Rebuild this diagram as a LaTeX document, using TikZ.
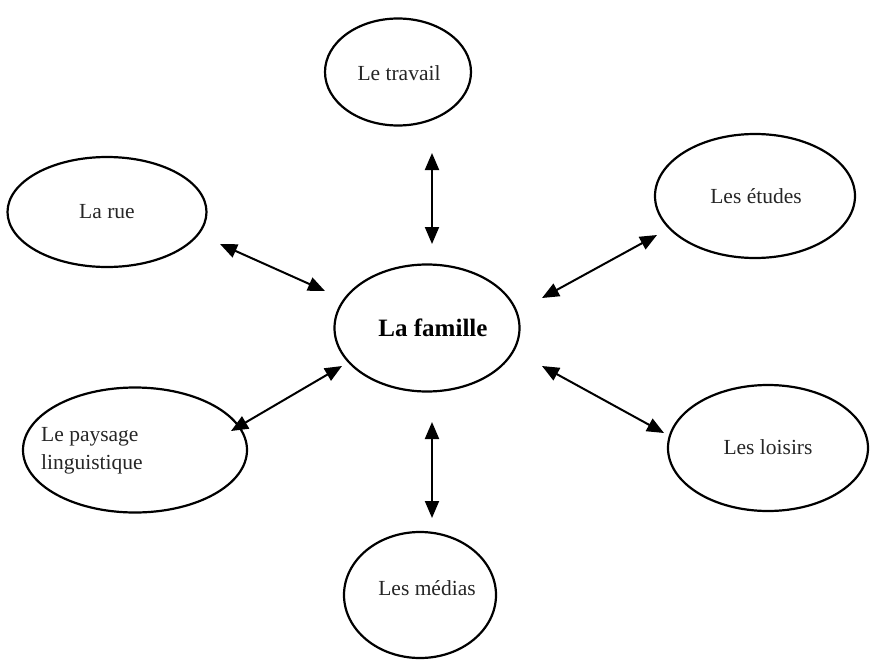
\documentclass[tikz,border=0pt]{standalone}
\usepackage{fontspec}
\setmainfont{Liberation Serif}
\usetikzlibrary{shapes.geometric,arrows.meta}
\tikzset{
  bubble/.style={draw=black, line width=2.2pt, ellipse, inner sep=0pt},
  lbl/.style={font=\fontsize{21.5}{24}\selectfont, inner sep=0pt, text=black!85},
  arr/.style={line width=2pt, {Triangle[length=17pt,width=14pt]}-{Triangle[length=17pt,width=14pt]}}
}
\begin{document}
\begin{tikzpicture}[x=1pt,y=-1pt]
\useasboundingbox (0,0) rectangle (873,667);
% ellipses
\node[bubble, minimum width=146pt, minimum height=107pt] (travail) at (398,72) {};
\node[bubble, minimum width=199pt, minimum height=110pt] (rue) at (107,212) {};
\node[bubble, minimum width=200pt, minimum height=124pt] (etudes) at (755,196) {};
\node[bubble, minimum width=185pt, minimum height=127pt] (famille) at (427,328) {};
\node[bubble, minimum width=224pt, minimum height=125pt] (paysage) at (135,450) {};
\node[bubble, minimum width=200pt, minimum height=126pt] (loisirs) at (768,448) {};
\node[bubble, minimum width=152pt, minimum height=126pt] (medias) at (420,595) {};
% labels
\node[lbl] (travailT) at (399,73) {Le travail};
\node[lbl] (rueT) at (107,212) {La rue};
\node[lbl] (etudesT) at (756,196) {Les études};
\node[lbl, font=\fontsize{25}{28}\selectfont\bfseries, text=black] (familleT) at (433,328) {La famille};
\node[lbl, align=left, anchor=west, font=\fontsize{21.5}{28}\selectfont] (paysageT) at (41,451) {Le paysage\\linguistique};
\node[lbl] (loisirsT) at (768,447) {Les loisirs};
\node[lbl] (mediasT) at (427,588) {Les médias};
% arrow end points
\coordinate (t1) at (432,153);
\coordinate (t2) at (432,244);
\coordinate (r1) at (220,244);
\coordinate (r2) at (325,291);
\coordinate (e1) at (657,235);
\coordinate (e2) at (542,298);
\coordinate (p1) at (231,431);
\coordinate (p2) at (342,366);
\coordinate (l1) at (542,366);
\coordinate (l2) at (664,433);
\coordinate (m1) at (432,422);
\coordinate (m2) at (432,518);
\draw[arr] (t1) -- (t2);
\draw[arr] (r1) -- (r2);
\draw[arr] (e1) -- (e2);
\draw[arr] (p1) -- (p2);
\draw[arr] (l1) -- (l2);
\draw[arr] (m1) -- (m2);
\end{tikzpicture}
\end{document}
